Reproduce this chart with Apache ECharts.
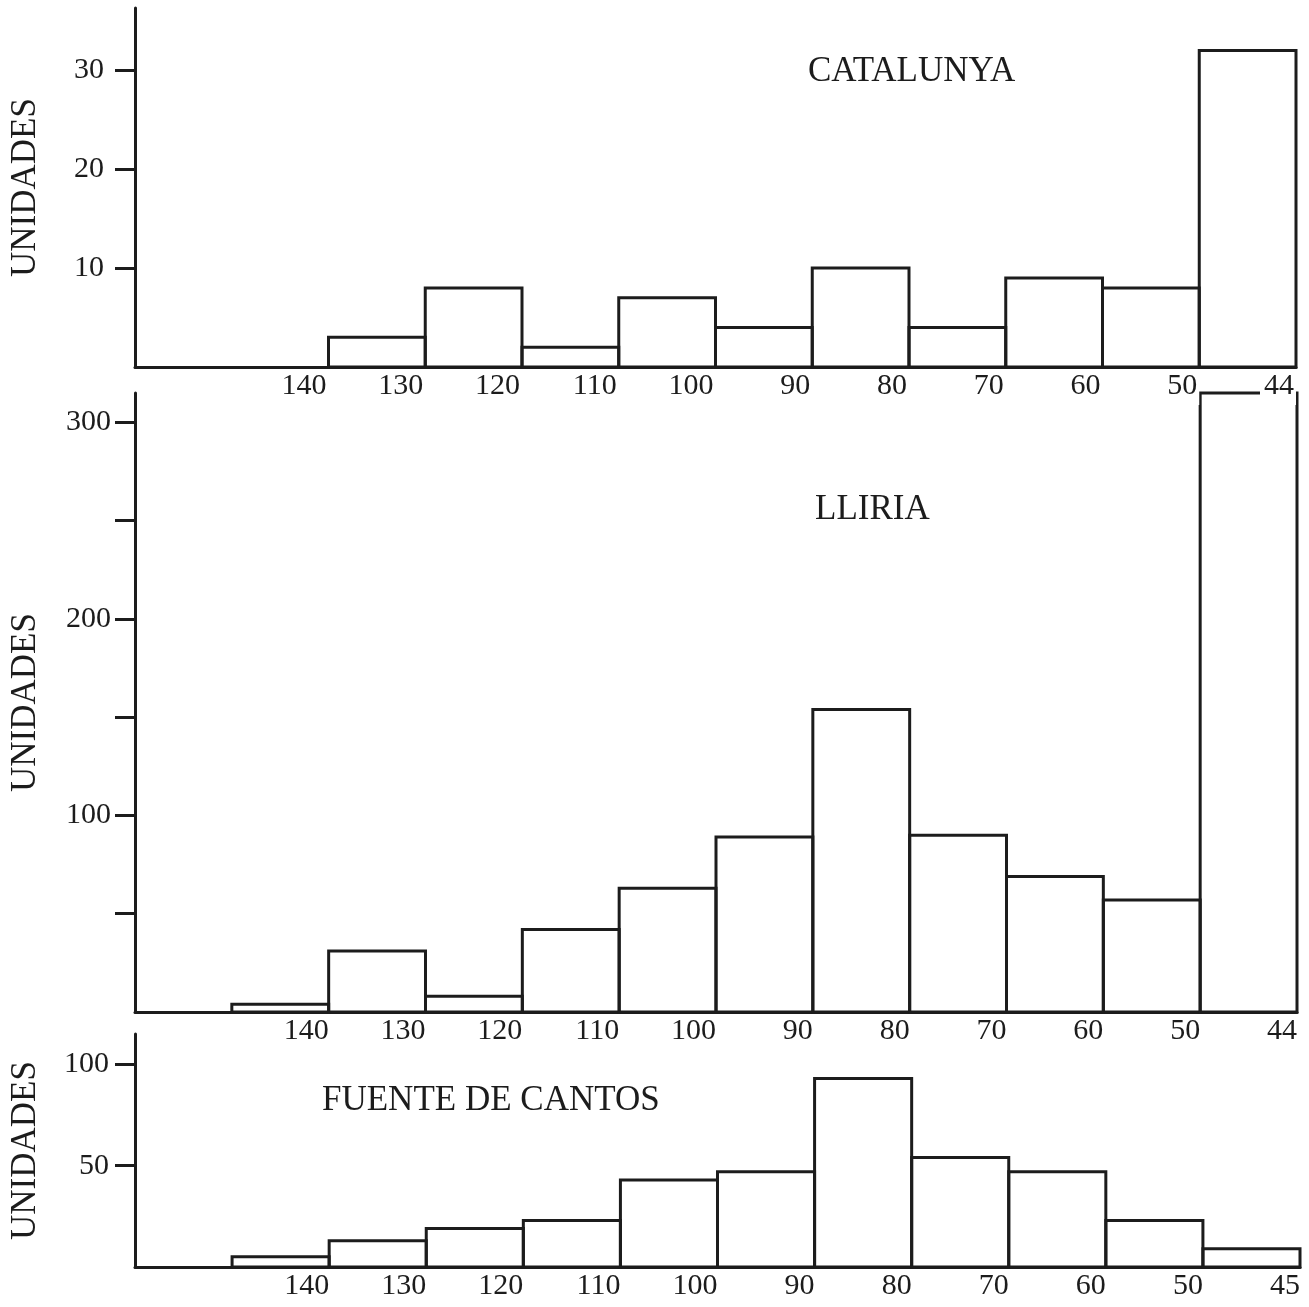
<!DOCTYPE html>
<html>
<head>
<meta charset="utf-8">
<script src="https://cdn.jsdelivr.net/npm/echarts@6/dist/echarts.min.js"></script>
<style>
html,body{margin:0;padding:0;background:#fff;}
#chart{width:1309px;height:1307px;}
</style>
</head>
<body>
<div id="chart"></div>
<script>
// Bin labels (label sits at right edge of each bin), bin 0 is unlabeled
const binLabelsA = ['', '140', '130', '120', '110', '100', '90', '80', '70', '60', '50', '44'];
const binLabelsB = ['', '140', '130', '120', '110', '100', '90', '80', '70', '60', '50', '44'];
const binLabelsC = ['', '140', '130', '120', '110', '100', '90', '80', '70', '60', '50', '45'];

// Counts per bin
const catalunya = [0, 0, 3, 8, 2, 7, 4, 10, 4, 9, 8, 32];
const lliria    = [0, 4, 31, 8, 42, 63, 89, 154, 90, 69, 57, 315];
const fuente    = [0, 5, 13, 19, 23, 43, 47, 93, 54, 47, 23, 9];

// Y ticks / labels
const ticksA = [10, 20, 30];
const ticksB = [50, 100, 150, 200, 250, 300];
const labelsB = [100, 200, 300];
const ticksC = [50, 100];

const titles = ['CATALUNYA', 'LLIRIA', 'FUENTE DE CANTOS'];
const yName = 'UNIDADES';

const FONT = 'Liberation Serif';
const INK = '#1c1c1c';

const chart = echarts.init(document.getElementById('chart'), null, {renderer: 'canvas'});

function renderBin(params, api) {
  const i = api.value(0), v = api.value(1);
  if (!v) return null;
  const p0 = api.coord([i, 0]);
  const p1 = api.coord([i + 1, v]);
  return {
    type: 'rect',
    shape: {x: p0[0], y: p1[1], width: p1[0] - p0[0], height: p0[1] - p1[1]},
    style: {fill: 'none', stroke: INK, lineWidth: 3}
  };
}

function xAxisFor(idx, labels, extra) {
  return Object.assign({
    type: 'value', gridIndex: idx, min: 0, max: 12,
    axisLine: {show: true, lineStyle: {color: INK, width: 3}},
    axisTick: {show: false},
    splitLine: {show: false},
    axisLabel: {
      customValues: [2, 3, 4, 5, 6, 7, 8, 9, 10, 11, 12],
      formatter: v => labels[Math.round(v) - 1] || '',
      align: 'right',
      margin: 4,
      fontFamily: FONT, fontSize: 30, color: INK
    }
  }, extra || {});
}

function yAxisFor(idx, max, ticks, labels, labelMargin) {
  return {
    type: 'value', gridIndex: idx, min: 0, max: max,
    name: yName, nameLocation: 'middle', nameGap: 92, nameRotate: 90,
    nameTextStyle: {fontFamily: FONT, fontSize: 35, color: INK},
    axisLine: {show: true, lineStyle: {color: INK, width: 3}},
    axisTick: {show: true, inside: false, length: 20, customValues: ticks, lineStyle: {color: INK, width: 3}},
    splitLine: {show: false},
    axisLabel: {customValues: labels, margin: labelMargin, fontFamily: FONT, fontSize: 30, color: INK}
  };
}

const titleStyle = {fontFamily: FONT, fontSize: 35, fontWeight: 'normal', color: INK};

const option = {
  backgroundColor: '#fff',
  animation: false,
  title: [
    {text: titles[0], left: 808, top: 54, padding: 0, textStyle: titleStyle},
    {text: titles[1], left: 815, top: 492, padding: 0, textStyle: titleStyle},
    {text: titles[2], left: 322, top: 1083, padding: 0, textStyle: titleStyle}
  ],
  grid: [
    {left: 128, right: 13, top: 8, height: 359},
    {left: 128, right: 12, top: 393, height: 619},
    {left: 128, right: 9, top: 1034, height: 233}
  ],
  xAxis: [
    xAxisFor(0, binLabelsA, {z: 5, axisLabel: {
      customValues: [2, 3, 4, 5, 6, 7, 8, 9, 10, 11, 12],
      formatter: v => binLabelsA[Math.round(v) - 1] || '',
      align: 'right', margin: 4,
      backgroundColor: '#fff', padding: [0, 2, 4, 4],
      fontFamily: FONT, fontSize: 30, color: INK
    }}),
    xAxisFor(1, binLabelsB),
    xAxisFor(2, binLabelsC)
  ],
  yAxis: [
    yAxisFor(0, 36.3, ticksA, ticksA, 31),
    yAxisFor(1, 315, ticksB, labelsB, 24),
    yAxisFor(2, 115, ticksC, ticksC, 26)
  ],
  series: [
    {type: 'custom', xAxisIndex: 0, yAxisIndex: 0, renderItem: renderBin, data: catalunya.map((v, i) => [i, v])},
    {type: 'custom', xAxisIndex: 1, yAxisIndex: 1, renderItem: renderBin, data: lliria.map((v, i) => [i, v])},
    {type: 'custom', xAxisIndex: 2, yAxisIndex: 2, renderItem: renderBin, data: fuente.map((v, i) => [i, v])}
  ]
};
chart.setOption(option);
</script>
</body>
</html>
